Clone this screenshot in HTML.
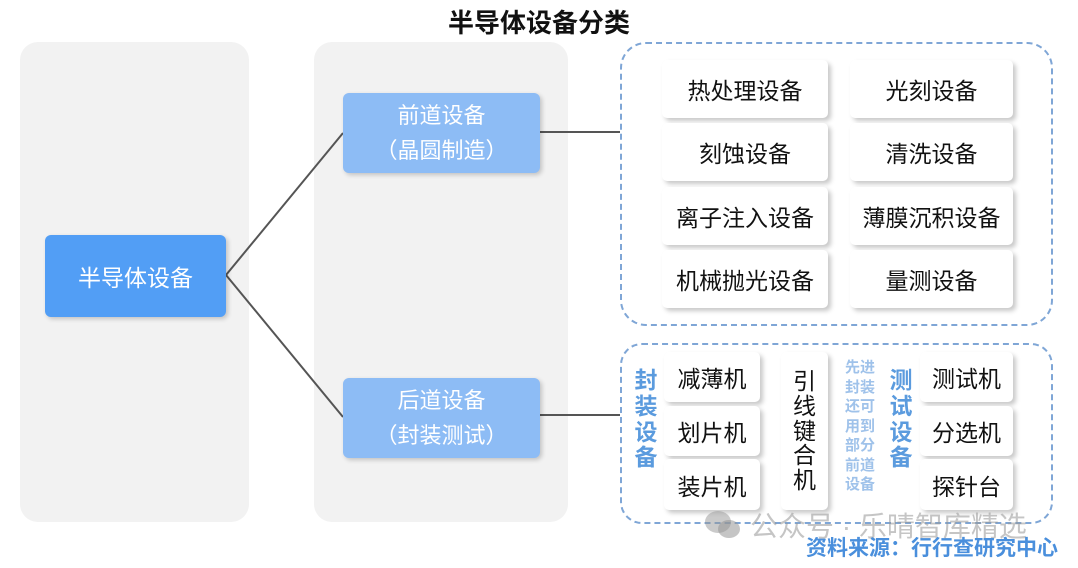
<!DOCTYPE html>
<html><head><meta charset="utf-8"><style>
*{margin:0;padding:0;box-sizing:border-box}
body{width:1078px;height:568px;background:#fff;position:relative;overflow:hidden;font-family:"Liberation Sans","Noto Sans CJK SC",sans-serif}
.a{position:absolute}
.panel{background:#f2f2f2;border-radius:18px}
.box{display:flex;align-items:center;justify-content:center;text-align:center;border-radius:6px}
.w{background:#fff;box-shadow:3px 3px 5px rgba(0,0,0,.22);font-size:23px;color:#111;border-radius:5px}
.dash{border:2px dashed #7fa6d6;border-radius:26px}
.v{display:flex;flex-direction:column;align-items:center;justify-content:center;line-height:1.12}
</style></head><body>
<div class="a" style="left:0;top:3px;width:1078px;text-align:center;font-size:26px;font-weight:bold;color:#111">半导体设备分类</div>
<div class="a panel" style="left:20px;top:42px;width:229px;height:480px"></div>
<div class="a panel" style="left:314px;top:42px;width:254px;height:480px"></div>
<svg class="a" style="left:0;top:0" width="1078" height="568">
<g stroke="#555" stroke-width="2" fill="none">
<line x1="226" y1="275" x2="343" y2="133"/>
<line x1="226" y1="275" x2="343" y2="417"/>
<line x1="540" y1="132" x2="620" y2="132"/>
<line x1="540" y1="415" x2="620" y2="415"/>
</g></svg>
<div class="a box" style="left:45px;top:235px;width:181px;height:82px;background:#529ef5;color:#fff;font-size:23px;box-shadow:2px 2px 5px rgba(0,0,0,.2)">半导体设备</div>
<div class="a box" style="left:343px;top:93px;width:197px;height:80px;background:#8dbcf5;color:#fff;font-size:22px;line-height:1.6;box-shadow:2px 2px 5px rgba(0,0,0,.2)">前道设备<br>（晶圆制造）</div>
<div class="a box" style="left:343px;top:378px;width:197px;height:80px;background:#8dbcf5;color:#fff;font-size:22px;line-height:1.6;box-shadow:2px 2px 5px rgba(0,0,0,.2)">后道设备<br>（封装测试）</div>
<div class="a dash" style="left:620px;top:42px;width:433px;height:284px"></div>
<div class="a dash" style="left:620px;top:343px;width:433px;height:181px;border-radius:22px"></div>
<div class="a box w" style="left:662px;top:60px;width:166px;height:58px">热处理设备</div>
<div class="a box w" style="left:850px;top:60px;width:163px;height:58px">光刻设备</div>
<div class="a box w" style="left:662px;top:123px;width:166px;height:58px">刻蚀设备</div>
<div class="a box w" style="left:850px;top:123px;width:163px;height:58px">清洗设备</div>
<div class="a box w" style="left:662px;top:187px;width:166px;height:58px">离子注入设备</div>
<div class="a box w" style="left:850px;top:187px;width:163px;height:58px">薄膜沉积设备</div>
<div class="a box w" style="left:662px;top:250px;width:166px;height:58px">机械抛光设备</div>
<div class="a box w" style="left:850px;top:250px;width:163px;height:58px">量测设备</div>
<div class="a v" style="left:629px;top:368px;width:34px;font-size:23px;color:#5b9bde;font-weight:bold">封<br>装<br>设<br>备</div>
<div class="a box w" style="left:664px;top:352px;width:96px;height:50px">减薄机</div>
<div class="a box w" style="left:664px;top:406px;width:96px;height:50px">划片机</div>
<div class="a box w" style="left:664px;top:459px;width:96px;height:51px">装片机</div>
<div class="a box w v" style="left:781px;top:352px;width:47px;height:158px;line-height:1.08">引<br>线<br>键<br>合<br>机</div>
<div class="a v" style="left:838px;top:358px;width:44px;font-size:15px;color:#9fc2ea;font-weight:bold;line-height:1.3">先进<br>封装<br>还可<br>用到<br>部分<br>前道<br>设备</div>
<div class="a v" style="left:883px;top:368px;width:36px;font-size:23px;color:#5b9bde;font-weight:bold">测<br>试<br>设<br>备</div>
<div class="a box w" style="left:920px;top:352px;width:93px;height:50px">测试机</div>
<div class="a box w" style="left:920px;top:406px;width:93px;height:50px">分选机</div>
<div class="a box w" style="left:920px;top:459px;width:93px;height:51px">探针台</div>
<svg class="a" style="left:702px;top:508px" width="42" height="34"><ellipse cx="16" cy="14" rx="13" ry="11" fill="rgba(150,150,150,.5)"/><ellipse cx="27" cy="21" rx="11" ry="9" fill="rgba(150,150,150,.55)"/></svg>
<div class="a" style="left:750px;top:505px;font-size:28px;color:rgba(150,150,150,.55)">公众号 · 乐晴智库精选</div>
<div class="a" style="left:806px;top:532px;font-size:21px;font-weight:bold;color:#4a8fdc">资料来源：行行查研究中心</div>
</body></html>
